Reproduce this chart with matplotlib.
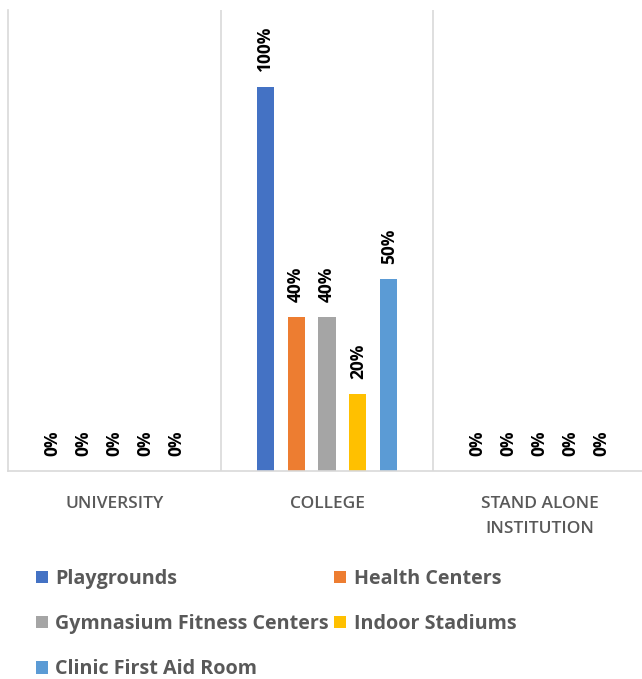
import matplotlib
matplotlib.use("Agg")
import matplotlib.pyplot as plt
import numpy as np

categories = ["UNIVERSITY", "COLLEGE", "STAND ALONE\nINSTITUTION"]
series = ["Playgrounds", "Health Centers", "Gymnasium Fitness Centers", "Indoor Stadiums", "Clinic First Aid Room"]
values = {
    "Playgrounds": [0, 100, 0],
    "Health Centers": [0, 40, 0],
    "Gymnasium Fitness Centers": [0, 40, 0],
    "Indoor Stadiums": [0, 20, 0],
    "Clinic First Aid Room": [0, 50, 0],
}
colors = ["#4472C4", "#ED7D31", "#A5A5A5", "#FFC000", "#5B9BD5"]

plt.rcParams['font.family'] = ['Open Sans', 'DejaVu Sans']

fig = plt.figure(figsize=(6.42, 6.79), dpi=100)
ax = fig.add_axes([8/642, 1 - 471/679, (646 - 8)/642, (471 - 10)/679])

x = np.arange(len(categories))
step = 0.1455
width = 0.08
handles = []
for i, (name, col) in enumerate(zip(series, colors)):
    pos = x + (i - 2) * step
    bars = ax.bar(pos, values[name], width=width, color=col, label=name)
    handles.append(bars)
    for px, v in zip(pos, values[name]):
        ax.text(px, v + 4.0 if v > 0 else 4.0, f"{v}%", rotation=90, ha='center', va='bottom',
                fontsize=12.5, fontweight='bold', color='black')

ax.set_xlim(-0.5, 2.5)
ax.set_ylim(0, 120)
ax.set_yticks([])
ax.set_xticks(x)
ax.set_xticklabels(categories, fontsize=12.5, fontweight='semibold', color='#595959', linespacing=1.75)
ax.tick_params(axis='x', length=0, pad=18)
for xv in [0.5, 1.5]:
    ax.axvline(xv, color='#D9D9D9', lw=1.2, zorder=0)
for s in ['top', 'right']:
    ax.spines[s].set_visible(False)
for s in ['left', 'bottom']:
    ax.spines[s].set_color('#D9D9D9')
    ax.spines[s].set_linewidth(1.2)

order = [0, 2, 4, 1, 3]
leg = fig.legend([handles[i] for i in order], [series[i] for i in order], ncol=2,
                 loc='upper left', bbox_to_anchor=(18/642, 1 - 551/679), frameon=False,
                 prop={'size': 14.2, 'weight': 'bold'}, labelcolor='#595959',
                 handlelength=0.6, handleheight=0.6, handletextpad=0.4,
                 labelspacing=1.28, columnspacing=0.25)

fig.savefig("out.png", dpi=100)
